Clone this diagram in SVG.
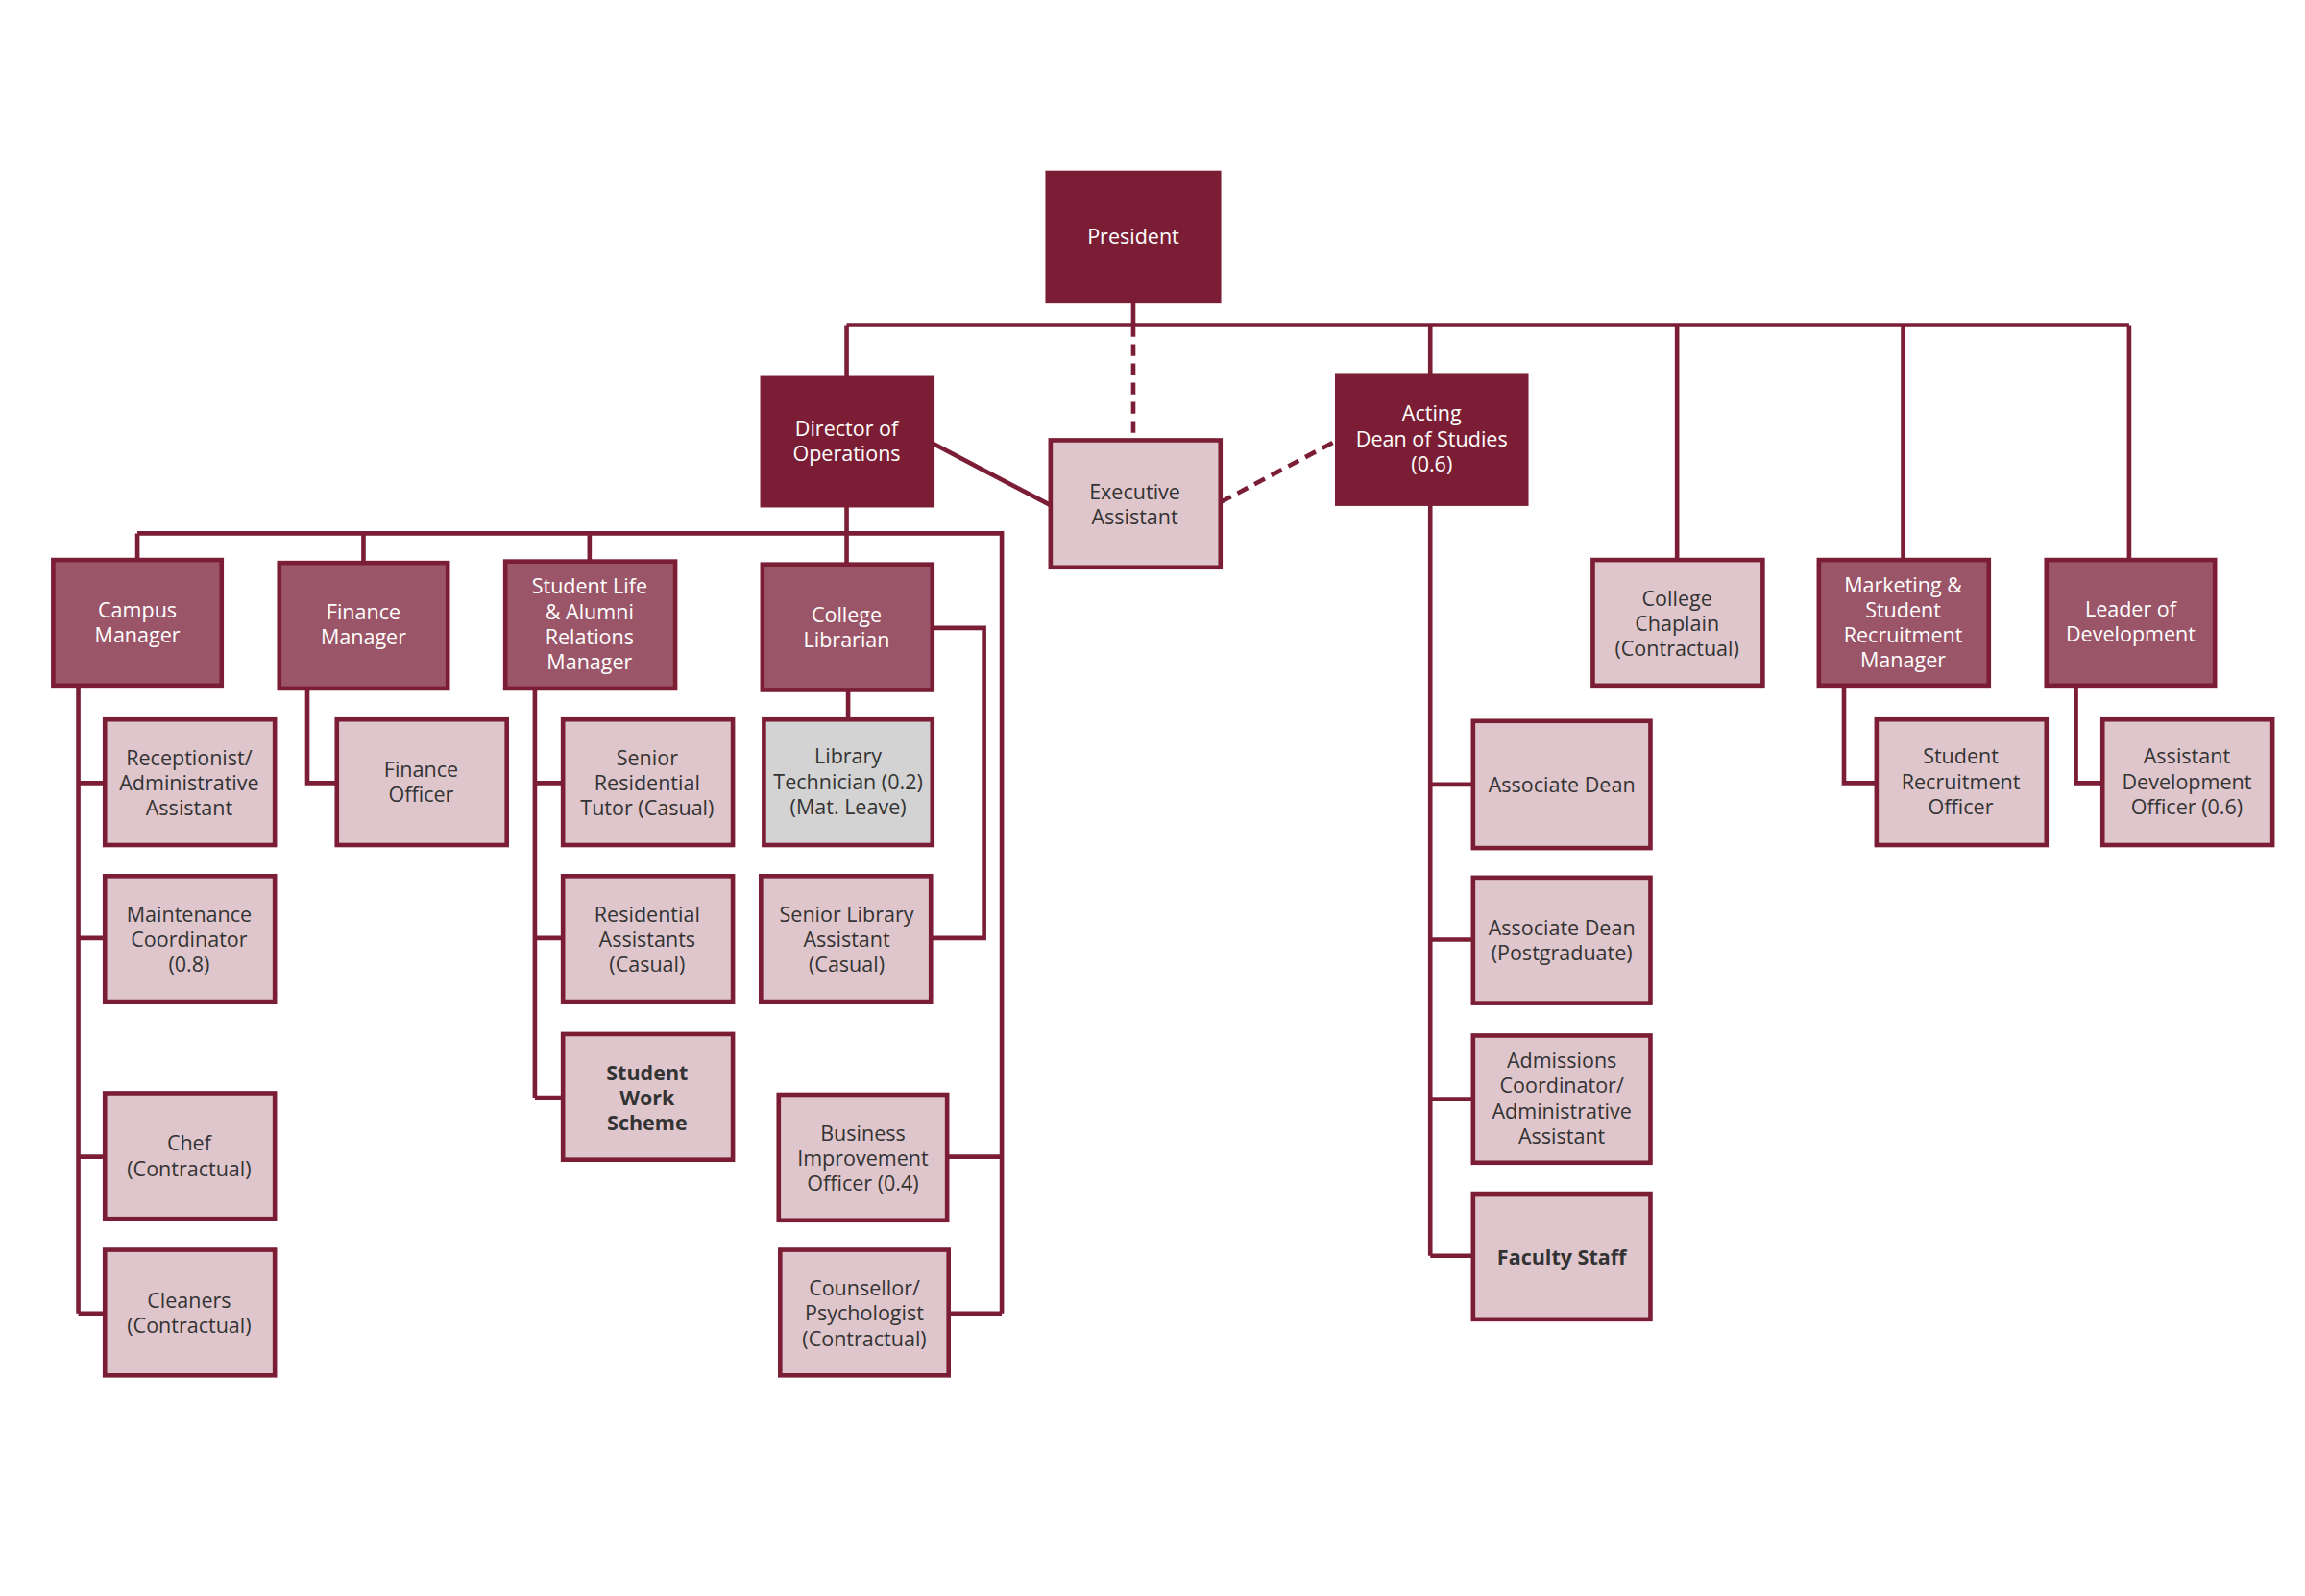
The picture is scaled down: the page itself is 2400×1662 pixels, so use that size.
<svg xmlns="http://www.w3.org/2000/svg" width="2400" height="1662" viewBox="0 0 2400 1662">
<style>
.b{stroke:#7B1E35;stroke-width:3}
.d{fill:#7B1E35}.m{fill:#9B5568}.l{fill:#DFC6CC}.g{fill:#D3D3D3}
text{font-family:"Open Sans","Noto Sans",sans-serif;font-size:14px;text-anchor:middle}
.w{fill:#fff}.k{fill:#333}.bo{font-weight:bold}
.c{fill:none;stroke:#7B1E35;stroke-width:3}
.ds{stroke-dasharray:8,5}
</style>
<rect width="2400" height="1662" fill="#fff"/>
<g transform="scale(1.53846)">
<g id="connectors">
<path class="c" d="M767,204V220M573,220H1441M573,220V256M968,220V254M1135,220V379M1288,220V379M1441,220V379"/>
<path class="c ds" d="M767,220V298M826,340L905,298"/>
<path class="c" d="M631,300L711,342"/>
<path class="c" d="M573,342V361M93,361H678V889M93,361V379M246,361V381M399,361V380M573,361V382M641,783H678M642,889H678"/>
<path class="c" d="M53,464V889M53,530H71M53,635H71M53,783H71M53,889H71"/>
<path class="c" d="M208,466V530H228"/>
<path class="c" d="M362,466V743M362,530H381M362,635H381M362,743H381"/>
<path class="c" d="M574,467V487M631,425H666V635H630"/>
<path class="c" d="M968,341V850M968,531H997M968,636H997M968,744H997M968,850H997"/>
<path class="c" d="M1248,464V530H1270M1405,464V530H1423"/>
</g>
<g id="president"><rect class="b d" x="709" y="117" width="116" height="87"/><text class="w" x="767" y="165">President</text></g>
<g id="director"><rect class="b d" x="516" y="256" width="115" height="86"/><text class="w" x="573" y="295">Director of</text><text class="w" x="573" y="312">Operations</text></g>
<g id="exec"><rect class="b l" x="711" y="298" width="115" height="86"/><text class="k" x="768" y="338">Executive</text><text class="k" x="768" y="355">Assistant</text></g>
<g id="dean"><rect class="b d" x="905" y="254" width="128" height="87"/><text class="w" x="969" y="285">Acting</text><text class="w" x="969" y="302">Dean of Studies</text><text class="w" x="969" y="319">(0.6)</text></g>
<g id="campus"><rect class="b m" x="36" y="379" width="114" height="85"/><text class="w" x="93" y="418">Campus</text><text class="w" x="93" y="435">Manager</text></g>
<g id="finmgr"><rect class="b m" x="189" y="381" width="114" height="85"/><text class="w" x="246" y="419">Finance</text><text class="w" x="246" y="436">Manager</text></g>
<g id="studentlife"><rect class="b m" x="342" y="380" width="115" height="86"/><text class="w" x="399" y="402">Student Life</text><text class="w" x="399" y="419">&amp; Alumni</text><text class="w" x="399" y="436">Relations</text><text class="w" x="399" y="453">Manager</text></g>
<g id="librarian"><rect class="b m" x="516" y="382" width="115" height="85"/><text class="w" x="573" y="421">College</text><text class="w" x="573" y="438">Librarian</text></g>
<g id="chaplain"><rect class="b l" x="1078" y="379" width="115" height="85"/><text class="k" x="1135" y="410">College</text><text class="k" x="1135" y="427">Chaplain</text><text class="k" x="1135" y="444">(Contractual)</text></g>
<g id="marketing"><rect class="b m" x="1231" y="379" width="115" height="85"/><text class="w" x="1288" y="401">Marketing &amp;</text><text class="w" x="1288" y="418">Student</text><text class="w" x="1288" y="435">Recruitment</text><text class="w" x="1288" y="452">Manager</text></g>
<g id="leader"><rect class="b m" x="1385" y="379" width="114" height="85"/><text class="w" x="1442" y="417">Leader of</text><text class="w" x="1442" y="434">Development</text></g>
<g id="receptionist"><rect class="b l" x="71" y="487" width="115" height="85"/><text class="k" x="128" y="518">Receptionist/</text><text class="k" x="128" y="535">Administrative</text><text class="k" x="128" y="552">Assistant</text></g>
<g id="maintenance"><rect class="b l" x="71" y="593" width="115" height="85"/><text class="k" x="128" y="624">Maintenance</text><text class="k" x="128" y="641">Coordinator</text><text class="k" x="128" y="658">(0.8)</text></g>
<g id="chef"><rect class="b l" x="71" y="740" width="115" height="85"/><text class="k" x="128" y="779">Chef</text><text class="k" x="128" y="796">(Contractual)</text></g>
<g id="cleaners"><rect class="b l" x="71" y="846" width="115" height="85"/><text class="k" x="128" y="885">Cleaners</text><text class="k" x="128" y="902">(Contractual)</text></g>
<g id="finofficer"><rect class="b l" x="228" y="487" width="115" height="85"/><text class="k" x="285" y="526">Finance</text><text class="k" x="285" y="543">Officer</text></g>
<g id="tutor"><rect class="b l" x="381" y="487" width="115" height="85"/><text class="k" x="438" y="518">Senior</text><text class="k" x="438" y="535">Residential</text><text class="k" x="438" y="552">Tutor (Casual)</text></g>
<g id="resassist"><rect class="b l" x="381" y="593" width="115" height="85"/><text class="k" x="438" y="624">Residential</text><text class="k" x="438" y="641">Assistants</text><text class="k" x="438" y="658">(Casual)</text></g>
<g id="workscheme"><rect class="b l" x="381" y="700" width="115" height="85"/><text class="k bo" x="438" y="731">Student</text><text class="k bo" x="438" y="748">Work</text><text class="k bo" x="438" y="765">Scheme</text></g>
<g id="libtech"><rect class="b g" x="517" y="487" width="114" height="85"/><text class="k" x="574" y="517">Library</text><text class="k" x="574" y="534">Technician (0.2)</text><text class="k" x="574" y="551">(Mat. Leave)</text></g>
<g id="seniorlib"><rect class="b l" x="515" y="593" width="115" height="85"/><text class="k" x="573" y="624">Senior Library</text><text class="k" x="573" y="641">Assistant</text><text class="k" x="573" y="658">(Casual)</text></g>
<g id="business"><rect class="b l" x="527" y="741" width="114" height="85"/><text class="k" x="584" y="772">Business</text><text class="k" x="584" y="789">Improvement</text><text class="k" x="584" y="806">Officer (0.4)</text></g>
<g id="counsellor"><rect class="b l" x="528" y="846" width="114" height="85"/><text class="k" x="585" y="877">Counsellor/</text><text class="k" x="585" y="894">Psychologist</text><text class="k" x="585" y="911">(Contractual)</text></g>
<g id="assocdean"><rect class="b l" x="997" y="488" width="120" height="86"/><text class="k" x="1057" y="536">Associate Dean</text></g>
<g id="assocdeanpg"><rect class="b l" x="997" y="594" width="120" height="85"/><text class="k" x="1057" y="633">Associate Dean</text><text class="k" x="1057" y="650">(Postgraduate)</text></g>
<g id="admissions"><rect class="b l" x="997" y="701" width="120" height="86"/><text class="k" x="1057" y="723">Admissions</text><text class="k" x="1057" y="740">Coordinator/</text><text class="k" x="1057" y="757">Administrative</text><text class="k" x="1057" y="774">Assistant</text></g>
<g id="faculty"><rect class="b l" x="997" y="808" width="120" height="85"/><text class="k bo" x="1057" y="856">Faculty Staff</text></g>
<g id="recruitofficer"><rect class="b l" x="1270" y="487" width="115" height="85"/><text class="k" x="1327" y="517">Student</text><text class="k" x="1327" y="534">Recruitment</text><text class="k" x="1327" y="551">Officer</text></g>
<g id="assistdev"><rect class="b l" x="1423" y="487" width="115" height="85"/><text class="k" x="1480" y="517">Assistant</text><text class="k" x="1480" y="534">Development</text><text class="k" x="1480" y="551">Officer (0.6)</text></g>
</g>
</svg>
